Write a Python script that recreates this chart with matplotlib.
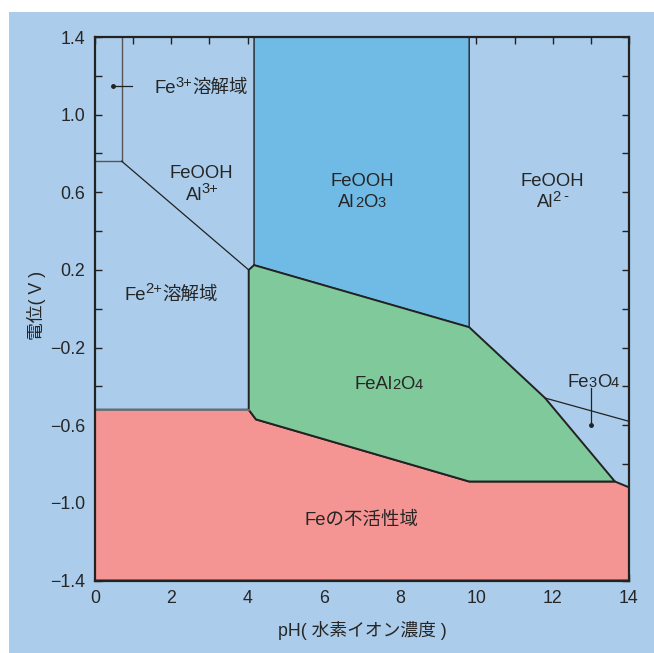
import matplotlib
matplotlib.use('Agg')
import matplotlib.pyplot as plt
from matplotlib.patches import Polygon, Rectangle
from matplotlib.ticker import MultipleLocator
import numpy as np

# =============================================================================
# Fe-Al-H2O potential / pH diagram data
# =============================================================================
ph_range = [0, 14]
e_range = [-1.4, 1.4]

# FeOOH + Al2O3 region (upper middle)
al2o3_ph = [4.17, 4.17, 9.81, 9.81]
al2o3_e = [1.4, 0.225, -0.095, 1.4]

# FeAl2O4 region
feal2o4_ph = [4.03, 4.17, 9.81, 11.8, 13.63, 9.81, 4.22, 4.03]
feal2o4_e = [0.20, 0.225, -0.095, -0.46, -0.89, -0.89, -0.57, -0.52]

# Fe immunity region
immune_ph = [0, 0, 4.03, 4.22, 9.81, 13.63, 14, 14]
immune_e = [-1.4, -0.52, -0.52, -0.57, -0.89, -0.89, -0.92, -1.4]

# Fe3+ box and Fe2+/FeOOH boundary
fe3_ph = [0.7, 0.7]
fe3_e = [1.4, 0.76]
fe3_floor_ph = [0, 0.7]
fe3_floor_e = [0.76, 0.76]
fe2_line_ph = [0.7, 4.03]
fe2_line_e = [0.76, 0.20]

# Fe3O4 boundary
fe3o4_ph = [11.8, 14]
fe3o4_e = [-0.46, -0.58]

c_bg = '#abcdeb'
c_al2o3 = '#70bae6'
c_green = '#80c99a'
c_red = '#f49594'
c_txt = '#262626'

plt.rcParams['font.family'] = ['Liberation Sans', 'Noto Sans CJK JP']

fig = plt.figure(figsize=(6.54, 6.53), dpi=100)
fig.patches.append(Rectangle((9/654., 0), 1, (653-12)/653., transform=fig.transFigure,
                             facecolor=c_bg, edgecolor='none', zorder=-10))
ax = fig.add_axes([95/654., 1-580.5/653., (629-95)/654., (580.5-37)/653.])
ax.set_facecolor(c_bg)
ax.set_xlim(ph_range)
ax.set_ylim(e_range)

ax.add_patch(Polygon(np.column_stack([immune_ph, immune_e]), closed=True,
                     facecolor=c_red, edgecolor='#222222', lw=1.4, zorder=2))
ax.add_patch(Polygon(np.column_stack([feal2o4_ph, feal2o4_e]), closed=True,
                     facecolor=c_green, edgecolor='#222222', lw=1.4, zorder=3, joinstyle='miter'))
ax.add_patch(Polygon(np.column_stack([al2o3_ph, al2o3_e]), closed=False,
                     facecolor=c_al2o3, edgecolor='#222222', lw=1.0, zorder=2))
# gray line between Fe2+ region and immunity region
ax.plot([0, 4.03], [-0.52, -0.52], color='#7a7a80', lw=1.2, zorder=4)

ax.plot(fe3_ph, fe3_e, color='#555555', lw=1.0, zorder=4)
ax.plot(fe3_floor_ph, fe3_floor_e, color='#555555', lw=1.0, zorder=4)
ax.plot(fe2_line_ph, fe2_line_e, color='#222222', lw=0.9, zorder=4)
ax.plot(fe3o4_ph, fe3o4_e, color='#222222', lw=0.9, zorder=4)

# leader lines for labels
ax.plot([0.47, 0.97], [1.15, 1.15], color='#222222', lw=0.9, zorder=5)
ax.plot([0.47], [1.15], 'o', color='#222222', ms=2.5, zorder=5)
ax.plot([13.0, 13.0], [-0.41, -0.60], color='#222222', lw=0.9, zorder=5)
ax.plot([13.0], [-0.60], 'o', color='#222222', ms=2.5, zorder=5)

renderer = fig.canvas.get_renderer()


def rich_text(x, y, parts, size=13.3):
    # parts: list of (string, relative size, baseline shift in points)
    widths = []
    for s, rs, dy in parts:
        t = ax.text(0, 0, s, fontsize=size*rs)
        w = t.get_window_extent(renderer).width*72./fig.dpi
        if dy > 0:
            w -= 0.6
        widths.append(w)
        t.remove()
    off = -sum(widths)/2.
    for (s, rs, dy), w in zip(parts, widths):
        if dy > 0:
            off -= 0.6
        ax.annotate(s, xy=(x, y), xytext=(off, dy), textcoords='offset points',
                    fontsize=size*rs, color=c_txt, ha='left', va='baseline', zorder=6)
        off += w + (0.6 if dy > 0 else 0)


rich_text(2.78, 1.112, [('Fe', 1, 0), ('3+', 0.8, 4.5), ('溶解域', 1, 0)])
rich_text(2.8, 0.672, [('FeOOH', 1, 0)])
rich_text(2.8, 0.562, [('Al', 1, 0), ('3+', 0.8, 4.5)])
rich_text(7.0, 0.632, [('FeOOH', 1, 0)])
rich_text(7.0, 0.522, [('Al', 1, 0), ('2', 0.8, 0), ('O', 1, 0), ('3', 0.8, 0)])
rich_text(12.0, 0.632, [('FeOOH', 1, 0)])
rich_text(12.0, 0.522, [('Al', 1, 0), ('2', 0.8, 4.5), (' -', 0.8, 5.5)])
rich_text(2.0, 0.047, [('Fe', 1, 0), ('2+', 0.8, 4.5), ('溶解域', 1, 0)])
rich_text(7.7, -0.413, [('FeAl', 1, 0), ('2', 0.8, 0), ('O', 1, 0), ('4', 0.8, 0)])
rich_text(13.06, -0.403, [('Fe', 1, 0), ('3', 0.8, 0), ('O', 1, 0), ('4', 0.8, 0)])
rich_text(7.0, -1.113, [('Feの不活性域', 1, 0)])

ax.xaxis.set_minor_locator(MultipleLocator(1))
ax.yaxis.set_minor_locator(MultipleLocator(0.2))
ax.set_xticks(np.arange(0, 15, 2))
ax.set_yticks(np.arange(-1.4, 1.41, 0.4))
ax.set_xticklabels([str(v) for v in range(0, 15, 2)])
ax.set_yticklabels(['%.1f' % v if v >= 0 else '\u2212%.1f' % -v for v in np.arange(-1.4, 1.41, 0.4)])
ax.tick_params(which='both', direction='in', top=True, right=True, color='#222222',
               labelsize=12.8, labelcolor=c_txt, width=1.0)
ax.tick_params(which='major', length=5, pad=7)
ax.tick_params(which='minor', length=5)
for sp in ax.spines.values():
    sp.set_linewidth(1.6)
    sp.set_color('#222222')
    sp.set_zorder(7)

fig.text(362/654., 1-630/653., 'pH( 水素イオン濃度 )', ha='center', va='center',
         fontsize=12.8, color=c_txt)
fig.text(36/654., 1-305/653., '電位( V )', ha='center', va='center', rotation=90,
         fontsize=12.8, color=c_txt)

fig.savefig('out.png', dpi=100)
